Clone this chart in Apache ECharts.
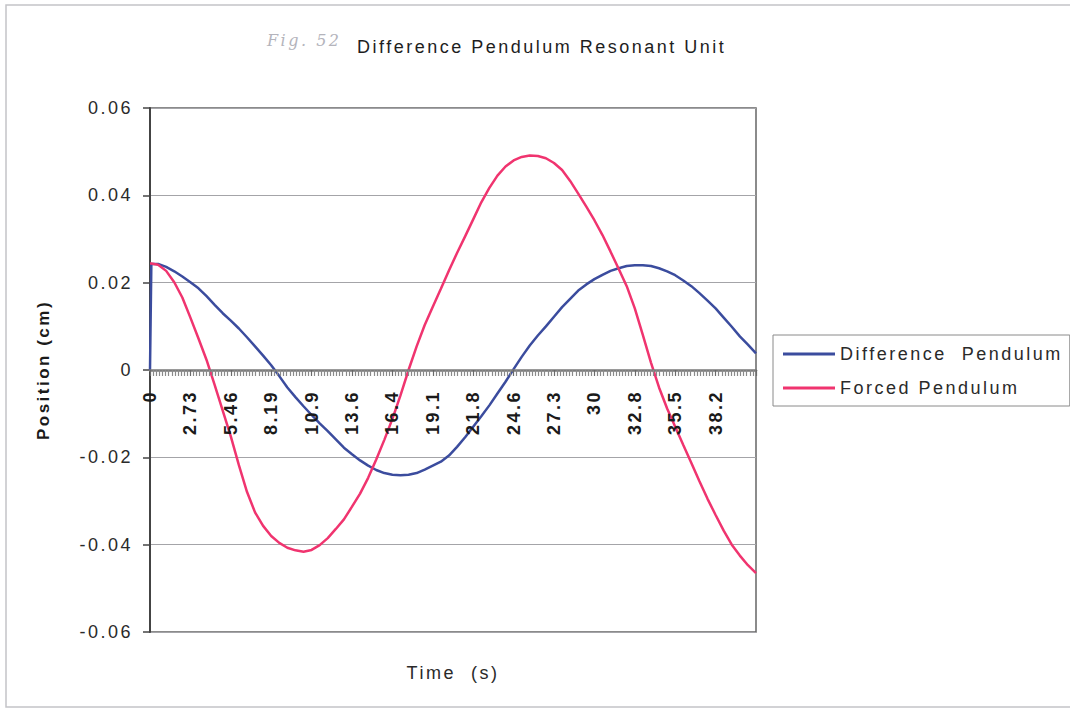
<!DOCTYPE html>
<html>
<head>
<meta charset="utf-8">
<script src="https://cdn.jsdelivr.net/npm/echarts@6/dist/echarts.min.js"></script>
<style>
  html, body { margin: 0; padding: 0; background: #fff; }
  #main { width: 1070px; height: 711px; }
  #main text { letter-spacing: 2.5px; }
</style>
</head>
<body>
<div id="main"></div>
<script>
// Time (s) of each sample
const timeS = [0, 0.091, 0.546, 1.092, 1.638, 2.184, 2.73, 3.276, 3.822, 4.368, 4.914,
  5.46, 6.006, 6.552, 7.098, 7.644, 8.19, 8.736, 9.282, 9.828, 10.374,
  10.92, 11.466, 12.012, 12.558, 13.104, 13.65, 14.196, 14.742, 15.288, 15.834,
  16.38, 16.926, 17.472, 18.018, 18.564, 19.11, 19.656, 20.202, 20.748, 21.294,
  21.84, 22.386, 22.932, 23.478, 24.024, 24.57, 25.116, 25.662, 26.208, 26.754,
  27.3, 27.846, 28.392, 28.938, 29.484, 30.03, 30.576, 31.122, 31.668, 32.214,
  32.76, 33.306, 33.852, 34.398, 34.944, 35.49, 36.036, 36.582, 37.128, 37.674,
  38.22, 38.766, 39.312, 39.858, 40.404, 40.95];

// Position (cm) - Difference Pendulum
const differencePendulum = [0, 0.0243, 0.0243, 0.0236, 0.0226, 0.0214, 0.0201, 0.0187, 0.0169, 0.0149, 0.0130,
  0.0113, 0.0095, 0.0075, 0.0054, 0.0033, 0.0011, -0.0014, -0.0040, -0.0062, -0.0083,
  -0.0103, -0.0122, -0.0140, -0.0159, -0.0178, -0.0193, -0.0207, -0.0219, -0.0229, -0.0236,
  -0.0240, -0.0241, -0.0240, -0.0236, -0.0228, -0.0219, -0.0210, -0.0196, -0.0176, -0.0154,
  -0.0130, -0.0106, -0.0081, -0.0054, -0.0027, 0.0002, 0.0030, 0.0056, 0.0079, 0.0100,
  0.0122, 0.0144, 0.0163, 0.0182, 0.0196, 0.0208, 0.0218, 0.0227, 0.0233, 0.0238,
  0.0240, 0.0240, 0.0238, 0.0233, 0.0226, 0.0217, 0.0205, 0.0192, 0.0176, 0.0159,
  0.0141, 0.0120, 0.0099, 0.0077, 0.0058, 0.0038];

// Position (cm) - Forced Pendulum
const forcedPendulum = [0.0244, 0.0244, 0.0241, 0.0227, 0.0201, 0.0166, 0.0120, 0.0072, 0.0023, -0.0034, -0.0093,
  -0.0152, -0.0218, -0.0279, -0.0326, -0.0357, -0.0380, -0.0396, -0.0407, -0.0413, -0.0416,
  -0.0412, -0.0401, -0.0385, -0.0364, -0.0342, -0.0313, -0.0283, -0.0247, -0.0205, -0.0160,
  -0.0112, -0.0058, 0.0000, 0.0054, 0.0103, 0.0145, 0.0186, 0.0228, 0.0268, 0.0306,
  0.0345, 0.0384, 0.0417, 0.0445, 0.0466, 0.0480, 0.0488, 0.0491, 0.0490, 0.0485,
  0.0474, 0.0458, 0.0433, 0.0404, 0.0374, 0.0343, 0.0309, 0.0271, 0.0232, 0.0192,
  0.0141, 0.0080, 0.0017, -0.0040, -0.0088, -0.0130, -0.0172, -0.0213, -0.0255, -0.0295,
  -0.0332, -0.0368, -0.0400, -0.0425, -0.0447, -0.0465];

// x-axis tick labels (every 2.73 s)
const xTickStep = 2.73;
const xTickLabels = ['0', '2.73', '5.46', '8.19', '10.9', '13.6', '16.4', '19.1', '21.8', '24.6', '27.3', '30', '32.8', '35.5', '38.2'];

const seriesNames = ['Difference  Pendulum', 'Forced Pendulum'];
const seriesColors = ['#3b4c9e', '#f0346f'];

const FONT = "'Liberation Sans', Arial, sans-serif";
const GRID = { left: 150, right: 314, top: 108, bottom: 79 };
// the time axis crosses the position axis at 0, half-way up the plot
const plotHeight = 711 - GRID.top - GRID.bottom;
const chart = echarts.init(document.getElementById('main'), null, { renderer: 'svg' });

chart.setOption({
  backgroundColor: '#ffffff',
  animation: false,
  title: [
    {
      text: 'Fig. 52',
      left: 262, top: 27,
      textStyle: { fontFamily: "'DejaVu Serif', serif", fontStyle: 'italic', fontWeight: 'normal', fontSize: 16, color: '#b4b4bc' }
    },
    {
      text: 'Difference Pendulum Resonant Unit',
      left: 352, top: 33,
      textStyle: { fontFamily: FONT, fontWeight: 'normal', fontSize: 18, color: '#1e1e1e' }
    }
  ],
  graphic: [
    {
      type: 'rect',
      shape: { x: 6, y: 5, width: 1080, height: 702 },
      style: { fill: 'none', stroke: '#c4c4c8', lineWidth: 1.5 },
      silent: true
    }
  ],
  legend: {
    orient: 'vertical',
    left: 773, top: 335,
    padding: [10, 57, 9, 10],
    itemGap: 16,
    itemWidth: 52,
    itemHeight: 3,
    itemTextGap: 8,
    icon: 'rect',
    borderColor: '#8a8a8a',
    borderWidth: 1,
    textStyle: { fontFamily: FONT, fontSize: 18, color: '#2a2a2a' },
    data: seriesNames
  },
  grid: {
    left: GRID.left, right: GRID.right, top: GRID.top, bottom: GRID.bottom,
    show: true, borderColor: '#666666', borderWidth: 1.5,
    containLabel: false,
    outerBoundsMode: 'none'
  },
  xAxis: {
    type: 'value',
    position: 'bottom',
    offset: -plotHeight / 2,
    z: 5,
    min: 0, max: 40.95, interval: xTickStep,
    name: 'Time  (s)',
    nameLocation: 'middle',
    nameGap: 294,
    nameTextStyle: { fontFamily: FONT, fontSize: 18, color: '#2a2a2a', verticalAlign: 'top' },
    axisLine: { onZero: false, lineStyle: { color: '#7a7a7a', width: 2.5 } },
    axisTick: { show: true, length: 6, lineStyle: { color: '#6a6a6a', width: 1.2 } },
    minorTick: { show: true, splitNumber: 13, length: 6, lineStyle: { color: '#8a8a8a', width: 1.2 } },
    splitLine: { show: false },
    axisLabel: {
      rotate: 90, margin: 20,
      showMaxLabel: false,
      fontFamily: FONT, fontSize: 18, fontWeight: 'bold', color: '#1a1a1a',
      formatter: function (v) {
        const i = Math.round(v / xTickStep);
        return xTickLabels[i] !== undefined ? xTickLabels[i] : '';
      }
    }
  },
  yAxis: {
    type: 'value',
    min: -0.06, max: 0.06, interval: 0.02,
    name: 'Position (cm)',
    nameLocation: 'middle',
    nameGap: 98,
    nameRotate: 90,
    nameTextStyle: { fontFamily: FONT, fontSize: 17, fontWeight: 'bold', color: '#1a1a1a' },
    axisLine: { show: true, onZero: false, lineStyle: { color: '#444444', width: 2 } },
    axisTick: { show: true, length: 7, lineStyle: { color: '#444444', width: 1.5 } },
    splitLine: { show: true, lineStyle: { color: '#a4a4a8', width: 1.2 } },
    axisLabel: {
      margin: 17,
      fontFamily: FONT, fontSize: 18, color: '#2a2a2a',
      formatter: function (v) {
        const r = Math.round(v * 100) / 100;
        return r === 0 ? '0' : r.toFixed(2);
      }
    }
  },
  series: [
    {
      name: seriesNames[0],
      type: 'line',
      symbol: 'none',
      smooth: false,
      color: seriesColors[0],
      lineStyle: { width: 2.5, color: seriesColors[0] },
      data: timeS.map((t, i) => [t, differencePendulum[i]]),
      z: 3
    },
    {
      name: seriesNames[1],
      type: 'line',
      symbol: 'none',
      smooth: false,
      color: seriesColors[1],
      lineStyle: { width: 2.5, color: seriesColors[1] },
      data: timeS.map((t, i) => [t, forcedPendulum[i]]),
      z: 4
    }
  ]
});
</script>
</body>
</html>
